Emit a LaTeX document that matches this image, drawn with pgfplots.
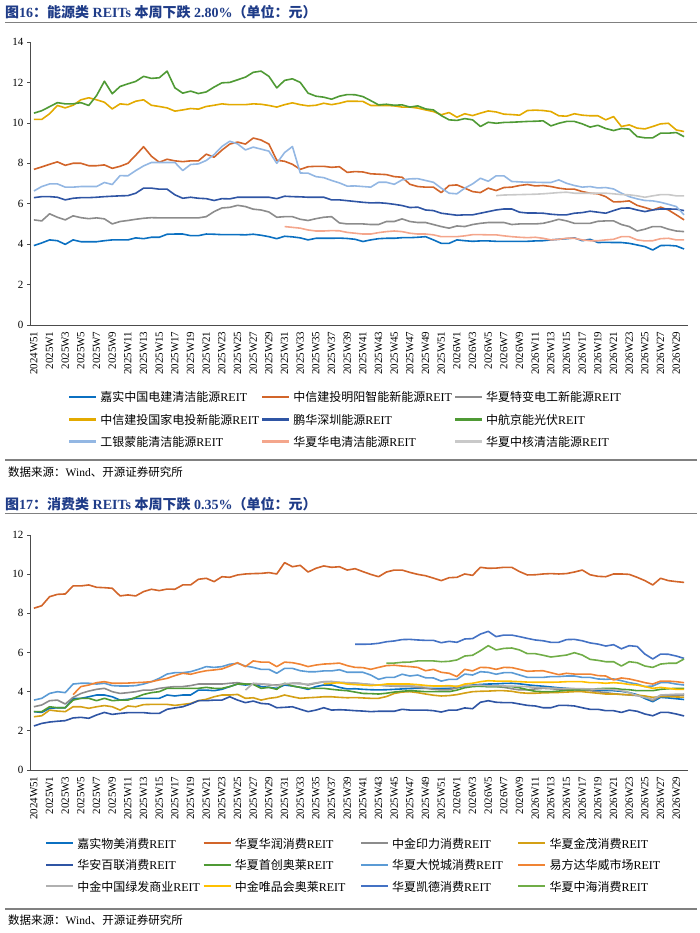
\documentclass[border=0pt]{standalone}
\usepackage{pgfplots}
\pgfplotsset{compat=1.18}
\usepackage{fontspec}
\setmainfont{Liberation Serif}
\newfontfamily\cjk{Noto Sans CJK SC}
\definecolor{titleblue}{HTML}{1F3C88}
\definecolor{tA}{HTML}{0B70C1}
\definecolor{tB}{HTML}{D2652A}
\definecolor{tC}{HTML}{8C8C8C}
\definecolor{tD}{HTML}{E3AA00}
\definecolor{tE}{HTML}{2F55A4}
\definecolor{tF}{HTML}{4F9A35}
\definecolor{tG}{HTML}{93B7E3}
\definecolor{tH}{HTML}{F4A68C}
\definecolor{tI}{HTML}{C9C9C9}
\definecolor{bA}{HTML}{0B70C1}
\definecolor{bB}{HTML}{D2652A}
\definecolor{bC}{HTML}{8C8C8C}
\definecolor{bD}{HTML}{D4A015}
\definecolor{bE}{HTML}{2F55A4}
\definecolor{bF}{HTML}{4F9A35}
\definecolor{bG}{HTML}{5B9BD5}
\definecolor{bH}{HTML}{F08434}
\definecolor{bI}{HTML}{B0B0B0}
\definecolor{bJ}{HTML}{FFC000}
\definecolor{bK}{HTML}{4472C4}
\definecolor{bL}{HTML}{70AD47}
\newcommand{\LEa}[1]{\makebox[160.5pt][l]{\rule[-3pt]{0pt}{14pt}{\cjk #1}REIT}}
\newcommand{\LEb}[1]{\makebox[125pt][l]{\rule[-3pt]{0pt}{14pt}{\cjk #1}REIT}}
\pgfplotsset{
  myaxis/.style={
    scale only axis, width=658pt,
    xmin=-0.5, xmax=83.5, ymin=0,
    enlargelimits=false,
    axis x line*=bottom, axis y line*=left,
    axis line style={draw=black!70, line width=0.9pt},
    xtick={0,2,...,82},
    xticklabels={2024W51,2025W1,2025W3,2025W5,2025W7,2025W9,2025W11,2025W13,2025W15,2025W17,2025W19,2025W21,2025W23,2025W25,2025W27,2025W29,2025W31,2025W33,2025W35,2025W37,2025W39,2025W41,2025W43,2025W45,2025W47,2025W49,2025W51,2026W1,2026W3,2026W5,2026W7,2026W9,2026W11,2026W13,2026W15,2026W17,2026W19,2026W21,2026W23,2026W25,2026W27,2026W29},
    xticklabel style={rotate=90, anchor=east, font=\fontsize{11}{11}\selectfont, xshift=0pt},
    x tick style={draw=none},
    ytick style={draw=black!70, line width=0.7pt},
    tick align=outside, major tick length=3pt,
    yticklabel style={font=\fontsize{11}{11}\selectfont},
    /pgf/number format/assume math mode=true,
    every axis plot/.append style={line width=1.6pt, line join=round, no markers},
    unbounded coords=jump,
    legend cell align=left,
    legend image code/.code={\draw[##1, line width=2.4pt] (0pt,0pt) -- (27pt,0pt);},
  }
}
\begin{document}
\begin{tikzpicture}
\useasboundingbox (0pt,0pt) rectangle (700pt,-933pt);
% ---------- titles and rules ----------
\node[anchor=west, inner sep=0pt, text=titleblue, font=\fontsize{14}{14}\selectfont\bfseries] at (5pt,-12pt) {{\cjk 图}16{\cjk ：能源类} REITs {\cjk 本周下跌} 2.80\%{\cjk （单位：元）}};
\draw[black!50, line width=1.2pt] (5pt,-22.5pt) -- (697pt,-22.5pt);
\draw[black!50, line width=2pt] (5pt,-460pt) -- (697pt,-460pt);
\node[anchor=west, inner sep=0pt, font=\fontsize{11.5}{11.5}\selectfont] at (8pt,-472pt) {{\cjk 数据来源：}Wind{\cjk 、开源证券研究所}};
\node[anchor=west, inner sep=0pt, text=titleblue, font=\fontsize{14}{14}\selectfont\bfseries] at (5pt,-504pt) {{\cjk 图}17{\cjk ：消费类} REITs {\cjk 本周下跌} 0.35\%{\cjk （单位：元）}};
\draw[black!50, line width=1.2pt] (5pt,-513.5pt) -- (697pt,-513.5pt);
\draw[black!50, line width=2pt] (5pt,-909pt) -- (697pt,-909pt);
\node[anchor=west, inner sep=0pt, font=\fontsize{11.5}{11.5}\selectfont] at (8pt,-920pt) {{\cjk 数据来源：}Wind{\cjk 、开源证券研究所}};
% ---------- top axis ----------
\begin{axis}[myaxis, at={(30pt,-325pt)}, anchor=south west, height=283pt,
  ymax=14, ytick={0,2,...,14},
  legend columns=3,
  legend style={draw=none, fill=none, inner sep=0pt, outer sep=0pt,
    at={(axis description cs:0.0578,-0.2332)}, anchor=north west,
    font=\fontsize{12}{12}\selectfont,
    nodes={inner sep=0pt}, row sep=9.6pt,
    /tikz/every odd column/.append style={column sep=3pt}},
]
\addplot[tA] coordinates {(0,3.93)(1,4.06)(2,4.21)(3,4.17)(4,3.99)(5,4.21)(6,4.12)(7,4.12)(8,4.12)(9,4.17)(10,4.21)(11,4.21)(12,4.21)(13,4.31)(14,4.27)(15,4.34)(16,4.34)(17,4.49)(18,4.50)(19,4.50)(20,4.42)(21,4.42)(22,4.50)(23,4.49)(24,4.47)(25,4.47)(26,4.47)(27,4.46)(28,4.49)(29,4.44)(30,4.37)(31,4.27)(32,4.39)(33,4.36)(34,4.31)(35,4.21)(36,4.29)(37,4.29)(38,4.29)(39,4.30)(40,4.28)(41,4.24)(42,4.13)(43,4.21)(44,4.27)(45,4.29)(46,4.29)(47,4.32)(48,4.32)(49,4.34)(50,4.37)(51,4.21)(52,4.04)(53,4.04)(54,4.21)(55,4.17)(56,4.14)(57,4.16)(58,4.16)(59,4.14)(60,4.14)(61,4.14)(62,4.14)(63,4.14)(64,4.16)(65,4.17)(66,4.21)(67,4.24)(68,4.27)(69,4.31)(70,4.17)(71,4.24)(72,4.08)(73,4.09)(74,4.08)(75,4.08)(76,4.04)(77,3.96)(78,3.88)(79,3.71)(80,3.93)(81,3.94)(82,3.91)(83,3.76)};
\addlegendentry{\LEa{嘉实中国电建清洁能源}}
\addplot[tB] coordinates {(0,7.70)(1,7.82)(2,7.95)(3,8.07)(4,7.90)(5,8.00)(6,8.00)(7,7.88)(8,7.88)(9,7.92)(10,7.75)(11,7.85)(12,8.00)(13,8.40)(14,8.82)(15,8.35)(16,8.05)(17,8.20)(18,8.12)(19,8.08)(20,8.12)(21,8.12)(22,8.45)(23,8.30)(24,8.65)(25,8.95)(26,9.05)(27,8.95)(28,9.25)(29,9.15)(30,8.95)(31,8.15)(32,8.10)(33,7.95)(34,7.70)(35,7.83)(36,7.85)(37,7.85)(38,7.80)(39,7.83)(40,7.55)(41,7.59)(42,7.57)(43,7.48)(44,7.46)(45,7.44)(46,7.34)(47,7.31)(48,6.96)(49,6.85)(50,6.82)(51,6.82)(52,6.55)(53,6.90)(54,6.93)(55,6.77)(56,6.60)(57,6.55)(58,6.77)(59,6.65)(60,6.80)(61,6.82)(62,6.90)(63,6.95)(64,6.88)(65,6.90)(66,6.85)(67,6.77)(68,6.72)(69,6.72)(70,6.60)(71,6.52)(72,6.49)(73,6.35)(74,6.09)(75,6.10)(76,6.14)(77,5.92)(78,5.81)(79,5.69)(80,5.83)(81,5.69)(82,5.45)(83,5.20)};
\addlegendentry{\LEa{中信建投明阳智能新能源}}
\addplot[tC] coordinates {(0,5.20)(1,5.15)(2,5.50)(3,5.33)(4,5.20)(5,5.40)(6,5.31)(7,5.26)(8,5.30)(9,5.25)(10,5.00)(11,5.12)(12,5.17)(13,5.23)(14,5.28)(15,5.31)(16,5.30)(17,5.30)(18,5.30)(19,5.30)(20,5.30)(21,5.30)(22,5.36)(23,5.61)(24,5.79)(25,5.82)(26,5.92)(27,5.86)(28,5.73)(29,5.69)(30,5.59)(31,5.33)(32,5.36)(33,5.36)(34,5.23)(35,5.17)(36,5.26)(37,5.33)(38,5.36)(39,5.05)(40,5.00)(41,5.00)(42,5.00)(43,4.97)(44,4.97)(45,5.12)(46,5.12)(47,5.25)(48,5.12)(49,5.07)(50,5.07)(51,4.97)(52,4.87)(53,4.79)(54,4.90)(55,4.87)(56,4.97)(57,5.03)(58,5.07)(59,5.07)(60,5.07)(61,4.97)(62,5.00)(63,5.00)(64,5.00)(65,5.03)(66,5.12)(67,5.23)(68,5.15)(69,5.03)(70,5.03)(71,5.03)(72,5.13)(73,5.15)(74,5.15)(75,4.97)(76,4.87)(77,4.65)(78,4.74)(79,4.87)(80,4.87)(81,4.74)(82,4.65)(83,4.62)};
\addlegendentry{\LEa{华夏特变电工新能源}}
\addplot[tD] coordinates {(0,10.17)(1,10.17)(2,10.45)(3,10.86)(4,10.74)(5,10.87)(6,11.14)(7,11.24)(8,11.14)(9,11.02)(10,10.69)(11,10.94)(12,10.90)(13,11.07)(14,11.14)(15,10.87)(16,10.81)(17,10.74)(18,10.58)(19,10.64)(20,10.71)(21,10.68)(22,10.81)(23,10.87)(24,10.94)(25,10.90)(26,10.90)(27,10.90)(28,10.94)(29,10.92)(30,10.86)(31,10.78)(32,10.90)(33,10.99)(34,10.90)(35,10.84)(36,10.87)(37,10.97)(38,10.90)(39,10.97)(40,11.07)(41,11.07)(42,11.06)(43,10.86)(44,10.86)(45,10.86)(46,10.84)(47,10.78)(48,10.78)(49,10.73)(50,10.64)(51,10.56)(52,10.40)(53,10.51)(54,10.28)(55,10.45)(56,10.36)(57,10.48)(58,10.59)(59,10.54)(60,10.43)(61,10.41)(62,10.38)(63,10.61)(64,10.63)(65,10.61)(66,10.56)(67,10.35)(68,10.33)(69,10.45)(70,10.38)(71,10.35)(72,10.35)(73,10.15)(74,10.31)(75,9.82)(76,9.90)(77,9.74)(78,9.70)(79,9.82)(80,9.95)(81,9.98)(82,9.65)(83,9.57)};
\addlegendentry{\LEa{中信建投国家电投新能源}}
\addplot[tE] coordinates {(0,6.30)(1,6.35)(2,6.35)(3,6.32)(4,6.19)(5,6.27)(6,6.30)(7,6.30)(8,6.32)(9,6.35)(10,6.37)(11,6.39)(12,6.40)(13,6.52)(14,6.77)(15,6.77)(16,6.72)(17,6.72)(18,6.44)(19,6.27)(20,6.32)(21,6.27)(22,6.25)(23,6.16)(24,6.25)(25,6.24)(26,6.32)(27,6.32)(28,6.32)(29,6.32)(30,6.32)(31,6.25)(32,6.37)(33,6.35)(34,6.34)(35,6.32)(36,6.32)(37,6.32)(38,6.19)(39,6.19)(40,6.15)(41,6.11)(42,6.07)(43,6.04)(44,6.05)(45,6.02)(46,5.97)(47,5.91)(48,5.81)(49,5.83)(50,5.69)(51,5.66)(52,5.53)(53,5.48)(54,5.43)(55,5.45)(56,5.45)(57,5.53)(58,5.61)(59,5.69)(60,5.74)(61,5.74)(62,5.58)(63,5.54)(64,5.54)(65,5.53)(66,5.48)(67,5.45)(68,5.45)(69,5.53)(70,5.56)(71,5.63)(72,5.58)(73,5.53)(74,5.66)(75,5.78)(76,5.79)(77,5.69)(78,5.61)(79,5.69)(80,5.74)(81,5.74)(82,5.73)(83,5.66)};
\addlegendentry{\LEa{鹏华深圳能源}}
\addplot[tF] coordinates {(0,10.48)(1,10.60)(2,10.80)(3,11.00)(4,10.94)(5,10.94)(6,11.00)(7,10.86)(8,11.35)(9,12.06)(10,11.44)(11,11.80)(12,11.93)(13,12.05)(14,12.30)(15,12.20)(16,12.23)(17,12.56)(18,11.73)(19,11.47)(20,11.57)(21,11.45)(22,11.53)(23,11.77)(24,11.98)(25,12.00)(26,12.13)(27,12.26)(28,12.50)(29,12.56)(30,12.30)(31,11.73)(32,12.10)(33,12.18)(34,12.00)(35,11.47)(36,11.32)(37,11.27)(38,11.17)(39,11.32)(40,11.40)(41,11.39)(42,11.30)(43,11.10)(44,10.89)(45,10.92)(46,10.87)(47,10.89)(48,10.78)(49,10.84)(50,10.69)(51,10.64)(52,10.36)(53,10.15)(54,10.12)(55,10.21)(56,10.15)(57,9.82)(58,10.03)(59,9.98)(60,10.02)(61,10.03)(62,10.05)(63,10.07)(64,10.08)(65,10.10)(66,9.85)(67,9.98)(68,10.07)(69,10.07)(70,9.95)(71,9.79)(72,9.88)(73,9.72)(74,9.62)(75,9.72)(76,9.69)(77,9.32)(78,9.26)(79,9.26)(80,9.49)(81,9.49)(82,9.52)(83,9.32)};
\addlegendentry{\LEa{中航京能光伏}}
\addplot[tG] coordinates {(0,6.63)(1,6.85)(2,6.98)(3,6.98)(4,6.82)(5,6.82)(6,6.85)(7,6.85)(8,6.85)(9,7.05)(10,6.95)(11,7.39)(12,7.38)(13,7.64)(14,7.87)(15,8.04)(16,8.04)(17,8.04)(18,8.04)(19,7.64)(20,7.94)(21,7.97)(22,8.14)(23,8.43)(24,8.83)(25,9.09)(26,8.96)(27,8.66)(28,8.80)(29,8.70)(30,8.60)(31,8.00)(32,8.53)(33,8.83)(34,7.52)(35,7.51)(36,7.34)(37,7.29)(38,7.15)(39,7.03)(40,6.87)(41,6.88)(42,6.85)(43,6.82)(44,7.06)(45,7.06)(46,6.96)(47,7.18)(48,7.23)(49,7.24)(50,7.15)(51,7.06)(52,6.77)(53,6.52)(54,6.49)(55,6.77)(56,6.98)(57,7.26)(58,7.11)(59,7.38)(60,7.38)(61,7.10)(62,7.08)(63,7.06)(64,7.06)(65,7.05)(66,7.05)(67,7.18)(68,7.01)(69,6.90)(70,6.82)(71,6.85)(72,6.78)(73,6.80)(74,6.73)(75,6.52)(76,6.35)(77,6.24)(78,6.16)(79,6.14)(80,6.07)(81,5.97)(82,5.86)(83,5.45)};
\addlegendentry{\LEa{工银蒙能清洁能源}}
\addplot[tH] coordinates {(32,4.87)(33,4.83)(34,4.79)(35,4.70)(36,4.65)(37,4.65)(38,4.67)(39,4.66)(40,4.58)(41,4.54)(42,4.50)(43,4.50)(44,4.57)(45,4.62)(46,4.65)(47,4.62)(48,4.54)(49,4.50)(50,4.50)(51,4.46)(52,4.37)(53,4.37)(54,4.37)(55,4.41)(56,4.47)(57,4.47)(58,4.46)(59,4.46)(60,4.41)(61,4.37)(62,4.34)(63,4.32)(64,4.34)(65,4.29)(66,4.21)(67,4.24)(68,4.29)(69,4.29)(70,4.21)(71,4.17)(72,4.17)(73,4.21)(74,4.24)(75,4.37)(76,4.37)(77,4.21)(78,4.16)(79,4.17)(80,4.27)(81,4.29)(82,4.21)(83,4.21)};
\addlegendentry{\LEa{华夏华电清洁能源}}
\addplot[tI] coordinates {(59,6.40)(60,6.43)(61,6.44)(62,6.45)(63,6.46)(64,6.47)(65,6.49)(66,6.52)(67,6.55)(68,6.57)(69,6.52)(70,6.52)(71,6.52)(72,6.52)(73,6.52)(74,6.49)(75,6.45)(76,6.44)(77,6.39)(78,6.32)(79,6.39)(80,6.45)(81,6.45)(82,6.39)(83,6.39)};
\addlegendentry{\LEa{华夏中核清洁能源}}
\end{axis}
% ---------- bottom axis ----------
\begin{axis}[myaxis, at={(30pt,-770pt)}, anchor=south west, height=235pt,
  ymax=12, ytick={0,2,...,12},
  legend columns=4,
  legend style={draw=none, fill=none, inner sep=0pt, outer sep=0pt,
    at={(axis description cs:0.0228,-0.2851)}, anchor=north west,
    font=\fontsize{12}{12}\selectfont,
    nodes={inner sep=0pt}, row sep=9pt,
    /tikz/every odd column/.append style={column sep=3pt}},
]
\addplot[bA] coordinates {(0,2.98)(1,2.94)(2,3.15)(3,3.18)(4,3.18)(5,3.66)(6,3.66)(7,3.74)(8,3.83)(9,3.83)(10,3.74)(11,3.57)(12,3.61)(13,3.66)(14,3.66)(15,3.66)(16,3.66)(17,3.83)(18,3.78)(19,3.83)(20,3.83)(21,4.08)(22,4.08)(23,4.05)(24,4.12)(25,4.26)(26,4.39)(27,4.34)(28,4.39)(29,4.26)(30,4.22)(31,4.17)(32,4.34)(33,4.29)(34,4.22)(35,4.12)(36,4.26)(37,4.34)(38,4.34)(39,4.22)(40,4.14)(41,4.15)(42,4.12)(43,4.10)(44,4.09)(45,4.10)(46,4.12)(47,4.14)(48,4.16)(49,4.17)(50,4.17)(51,4.17)(52,4.16)(53,4.17)(54,4.20)(55,4.28)(56,4.34)(57,4.37)(58,4.39)(59,4.40)(60,4.42)(61,4.43)(62,4.40)(63,4.35)(64,4.31)(65,4.28)(66,4.24)(67,4.20)(68,4.17)(69,4.13)(70,4.09)(71,4.08)(72,4.07)(73,4.06)(74,4.05)(75,4.02)(76,3.95)(77,3.85)(78,3.65)(79,3.49)(80,3.71)(81,3.68)(82,3.64)(83,3.60)};
\addlegendentry{\LEb{嘉实物美消费}}
\addplot[bB] coordinates {(0,8.26)(1,8.39)(2,8.85)(3,8.97)(4,8.99)(5,9.40)(6,9.40)(7,9.45)(8,9.33)(9,9.31)(10,9.28)(11,8.89)(12,8.94)(13,8.89)(14,9.11)(15,9.23)(16,9.16)(17,9.24)(18,9.23)(19,9.45)(20,9.45)(21,9.74)(22,9.79)(23,9.62)(24,9.87)(25,9.84)(26,9.96)(27,10.01)(28,10.03)(29,10.04)(30,10.08)(31,10.01)(32,10.59)(33,10.38)(34,10.45)(35,10.11)(36,10.30)(37,10.42)(38,10.35)(39,10.38)(40,10.21)(41,10.28)(42,10.13)(43,9.99)(44,9.87)(45,10.11)(46,10.21)(47,10.21)(48,10.09)(49,9.99)(50,9.92)(51,9.80)(52,9.67)(53,9.82)(54,9.84)(55,10.01)(56,9.94)(57,10.35)(58,10.30)(59,10.31)(60,10.35)(61,10.35)(62,10.13)(63,9.96)(64,9.97)(65,10.01)(66,10.03)(67,10.01)(68,10.03)(69,10.11)(70,10.21)(71,9.97)(72,9.89)(73,9.87)(74,10.01)(75,10.01)(76,9.99)(77,9.84)(78,9.67)(79,9.45)(80,9.79)(81,9.67)(82,9.62)(83,9.58)};
\addlegendentry{\LEb{华夏华润消费}}
\addplot[bC] coordinates {(0,3.23)(1,3.32)(2,3.54)(3,3.57)(4,3.37)(5,3.71)(6,3.91)(7,4.03)(8,4.12)(9,4.17)(10,4.00)(11,3.91)(12,3.95)(13,4.00)(14,4.08)(15,4.08)(16,4.17)(17,4.22)(18,4.26)(19,4.26)(20,4.31)(21,4.39)(22,4.39)(23,4.39)(24,4.39)(25,4.43)(26,4.46)(27,4.39)(28,4.39)(29,4.39)(30,4.34)(31,4.34)(32,4.39)(33,4.43)(34,4.43)(35,4.34)(36,4.43)(37,4.51)(38,4.51)(39,4.46)(40,4.45)(41,4.43)(42,4.40)(43,4.36)(44,4.34)(45,4.30)(46,4.28)(47,4.26)(48,4.26)(49,4.22)(50,4.18)(51,4.12)(52,4.09)(53,4.10)(54,4.20)(55,4.34)(56,4.30)(57,4.28)(58,4.26)(59,4.26)(60,4.22)(61,4.15)(62,4.09)(63,4.10)(64,4.14)(65,4.17)(66,4.15)(67,4.12)(68,4.10)(69,4.09)(70,4.08)(71,4.05)(72,4.00)(73,3.95)(74,3.90)(75,3.86)(76,3.83)(77,3.80)(78,3.75)(79,3.54)(80,3.78)(81,3.80)(82,3.82)(83,3.83)};
\addlegendentry{\LEb{中金印力消费}}
\addplot[bD] coordinates {(0,2.72)(1,2.77)(2,3.06)(3,3.01)(4,2.98)(5,3.23)(6,3.23)(7,3.15)(8,3.23)(9,3.29)(10,3.23)(11,3.06)(12,3.27)(13,3.23)(14,3.34)(15,3.35)(16,3.35)(17,3.35)(18,3.30)(19,3.35)(20,3.40)(21,3.54)(22,3.61)(23,3.74)(24,3.83)(25,3.83)(26,3.86)(27,3.66)(28,3.69)(29,3.57)(30,3.66)(31,3.71)(32,3.83)(33,3.74)(34,3.66)(35,3.69)(36,3.71)(37,3.74)(38,3.74)(39,3.71)(40,3.69)(41,3.70)(42,3.68)(43,3.66)(44,3.66)(45,3.75)(46,3.91)(47,3.98)(48,4.00)(49,3.95)(50,3.88)(51,3.82)(52,3.78)(53,3.80)(54,3.85)(55,3.93)(56,4.00)(57,4.02)(58,4.03)(59,4.05)(60,4.05)(61,4.02)(62,3.95)(63,3.92)(64,3.92)(65,3.94)(66,3.95)(67,3.96)(68,3.98)(69,4.00)(70,4.00)(71,3.96)(72,3.92)(73,3.88)(74,3.88)(75,3.86)(76,3.84)(77,3.83)(78,3.78)(79,3.71)(80,3.75)(81,3.75)(82,3.73)(83,3.72)};
\addlegendentry{\LEb{华夏金茂消费}}
\addplot[bE] coordinates {(0,2.25)(1,2.38)(2,2.45)(3,2.49)(4,2.52)(5,2.66)(6,2.69)(7,2.64)(8,2.81)(9,2.94)(10,2.84)(11,2.89)(12,2.93)(13,2.93)(14,2.93)(15,2.89)(16,2.89)(17,3.10)(18,3.17)(19,3.23)(20,3.37)(21,3.54)(22,3.54)(23,3.57)(24,3.57)(25,3.74)(26,3.57)(27,3.44)(28,3.52)(29,3.40)(30,3.37)(31,3.18)(32,3.20)(33,3.23)(34,3.10)(35,2.98)(36,3.06)(37,3.18)(38,3.06)(39,3.08)(40,3.06)(41,3.03)(42,3.01)(43,2.98)(44,3.00)(45,3.00)(46,3.00)(47,3.10)(48,3.06)(49,3.06)(50,3.06)(51,3.03)(52,2.96)(53,3.06)(54,3.06)(55,3.17)(56,3.13)(57,3.46)(58,3.54)(59,3.46)(60,3.44)(61,3.44)(62,3.37)(63,3.30)(64,3.27)(65,3.18)(66,3.18)(67,3.30)(68,3.30)(69,3.27)(70,3.18)(71,3.10)(72,3.10)(73,3.03)(74,3.03)(75,2.94)(76,3.06)(77,3.00)(78,2.86)(79,2.77)(80,2.94)(81,2.94)(82,2.86)(83,2.76)};
\addlegendentry{\LEb{华安百联消费}}
\addplot[bF] coordinates {(0,2.98)(1,2.98)(2,3.23)(3,3.18)(4,3.18)(5,3.57)(6,3.66)(7,3.66)(8,3.54)(9,3.66)(10,3.54)(11,3.57)(12,3.57)(13,3.71)(14,3.86)(15,3.95)(16,4.00)(17,4.17)(18,4.17)(19,4.17)(20,4.17)(21,4.17)(22,4.22)(23,4.17)(24,4.17)(25,4.26)(26,4.39)(27,4.39)(28,4.37)(29,4.17)(30,4.22)(31,4.12)(32,4.43)(33,4.29)(34,4.22)(35,4.17)(36,4.17)(37,4.17)(38,4.12)(39,4.08)(40,4.05)(41,3.98)(42,3.91)(43,3.90)(44,3.88)(45,3.92)(46,3.98)(47,4.02)(48,4.05)(49,4.03)(50,4.00)(51,4.00)(52,4.00)(53,4.00)(54,4.08)(55,4.20)(56,4.26)(57,4.28)(58,4.26)(59,4.26)(60,4.26)(61,4.26)(62,4.20)(63,4.10)(64,4.02)(65,4.00)(66,4.00)(67,4.03)(68,4.07)(69,4.09)(70,4.09)(71,4.12)(72,4.15)(73,4.17)(74,4.17)(75,4.12)(76,4.10)(77,4.05)(78,4.05)(79,4.05)(80,4.12)(81,4.15)(82,4.17)(83,4.17)};
\addlegendentry{\LEb{华夏首创奥莱}}
\addplot[bG] coordinates {(0,3.57)(1,3.66)(2,3.91)(3,4.00)(4,3.95)(5,4.39)(6,4.43)(7,4.43)(8,4.39)(9,4.43)(10,4.31)(11,4.29)(12,4.29)(13,4.31)(14,4.39)(15,4.51)(16,4.68)(17,4.90)(18,4.97)(19,4.97)(20,5.02)(21,5.14)(22,5.28)(23,5.24)(24,5.28)(25,5.40)(26,5.45)(27,5.31)(28,5.24)(29,5.14)(30,5.14)(31,4.94)(32,5.19)(33,5.19)(34,5.07)(35,5.02)(36,5.02)(37,5.06)(38,5.06)(39,5.12)(40,4.99)(41,4.99)(42,4.99)(43,4.85)(44,4.63)(45,4.73)(46,4.73)(47,4.89)(48,4.80)(49,4.85)(50,4.71)(51,4.70)(52,4.54)(53,4.63)(54,4.63)(55,4.90)(56,4.85)(57,5.02)(58,4.99)(59,4.89)(60,4.97)(61,4.97)(62,4.85)(63,4.73)(64,4.73)(65,4.73)(66,4.77)(67,4.77)(68,4.80)(69,4.80)(70,4.73)(71,4.73)(72,4.65)(73,4.63)(74,4.65)(75,4.56)(76,4.46)(77,4.39)(78,4.26)(79,4.29)(80,4.46)(81,4.46)(82,4.39)(83,4.34)};
\addlegendentry{\LEb{华夏大悦城消费}}
\addplot[bH] coordinates {(5,3.85)(6,4.26)(7,4.34)(8,4.46)(9,4.51)(10,4.43)(11,4.43)(12,4.44)(13,4.46)(14,4.48)(15,4.51)(16,4.60)(17,4.68)(18,4.82)(19,4.94)(20,4.89)(21,4.99)(22,5.07)(23,5.11)(24,5.16)(25,5.31)(26,5.48)(27,5.28)(28,5.57)(29,5.51)(30,5.51)(31,5.28)(32,5.51)(33,5.48)(34,5.40)(35,5.28)(36,5.36)(37,5.41)(38,5.43)(39,5.46)(40,5.33)(41,5.24)(42,5.23)(43,5.14)(44,5.24)(45,5.33)(46,5.35)(47,5.31)(48,5.28)(49,5.24)(50,5.07)(51,5.14)(52,4.99)(53,4.94)(54,4.77)(55,5.14)(56,5.06)(57,5.24)(58,5.23)(59,5.14)(60,5.24)(61,5.23)(62,5.14)(63,5.04)(64,5.06)(65,5.07)(66,4.97)(67,4.87)(68,4.94)(69,4.90)(70,4.90)(71,4.90)(72,4.82)(73,4.80)(74,4.60)(75,4.70)(76,4.65)(77,4.56)(78,4.46)(79,4.39)(80,4.54)(81,4.54)(82,4.51)(83,4.46)};
\addlegendentry{\LEb{易方达华威市场}}
\addplot[bI] coordinates {(27,4.08)(28,4.43)(29,4.40)(30,4.38)(31,4.30)(32,4.40)(33,4.42)(34,4.40)(35,4.38)(36,4.45)(37,4.50)(38,4.52)(39,4.48)(40,4.46)(41,4.44)(42,4.40)(43,4.36)(44,4.34)(45,4.32)(46,4.30)(47,4.30)(48,4.30)(49,4.28)(50,4.30)(51,4.30)(52,4.28)(53,4.25)(54,4.28)(55,4.30)(56,4.32)(57,4.33)(58,4.30)(59,4.30)(60,4.29)(61,4.28)(62,4.27)(63,4.25)(64,4.22)(65,4.20)(66,4.18)(67,4.17)(68,4.16)(69,4.16)(70,4.15)(71,4.14)(72,4.13)(73,4.12)(74,4.10)(75,4.05)(76,3.95)(77,3.80)(78,3.70)(79,3.61)(80,3.83)(81,3.85)(82,3.87)(83,3.88)};
\addlegendentry{\LEb{中金中国绿发商业}}
\addplot[bJ] coordinates {(37,4.40)(38,4.43)(39,4.46)(40,4.39)(41,4.36)(42,4.34)(43,4.31)(44,4.34)(45,4.39)(46,4.39)(47,4.39)(48,4.39)(49,4.36)(50,4.32)(51,4.29)(52,4.29)(53,4.31)(54,4.26)(55,4.39)(56,4.43)(57,4.51)(58,4.56)(59,4.54)(60,4.54)(61,4.53)(62,4.51)(63,4.49)(64,4.48)(65,4.48)(66,4.48)(67,4.49)(68,4.51)(69,4.51)(70,4.51)(71,4.46)(72,4.46)(73,4.43)(74,4.46)(75,4.43)(76,4.37)(77,4.34)(78,4.26)(79,4.17)(80,4.22)(81,4.17)(82,4.12)(83,4.12)};
\addlegendentry{\LEb{中金唯品会奥莱}}
\addplot[bK] coordinates {(41,6.42)(42,6.42)(43,6.43)(44,6.47)(45,6.55)(46,6.59)(47,6.66)(48,6.67)(49,6.64)(50,6.62)(51,6.62)(52,6.50)(53,6.57)(54,6.52)(55,6.69)(56,6.71)(57,6.94)(58,7.08)(59,6.81)(60,6.89)(61,6.89)(62,6.81)(63,6.72)(64,6.64)(65,6.60)(66,6.52)(67,6.52)(68,6.66)(69,6.67)(70,6.60)(71,6.49)(72,6.43)(73,6.33)(74,6.40)(75,6.19)(76,6.35)(77,6.31)(78,5.92)(79,5.67)(80,5.92)(81,5.91)(82,5.82)(83,5.70)};
\addlegendentry{\LEb{华夏凯德消费}}
\addplot[bL] coordinates {(45,5.45)(46,5.46)(47,5.50)(48,5.51)(49,5.57)(50,5.57)(51,5.57)(52,5.53)(53,5.55)(54,5.62)(55,5.82)(56,5.86)(57,6.09)(58,6.35)(59,6.13)(60,6.21)(61,6.23)(62,6.13)(63,5.94)(64,5.94)(65,5.86)(66,5.77)(67,5.82)(68,5.87)(69,5.99)(70,5.87)(71,5.65)(72,5.60)(73,5.53)(74,5.53)(75,5.31)(76,5.53)(77,5.48)(78,5.31)(79,5.24)(80,5.41)(81,5.45)(82,5.45)(83,5.67)};
\addlegendentry{\LEb{华夏中海消费}}
\end{axis}
\end{tikzpicture}
\end{document}
